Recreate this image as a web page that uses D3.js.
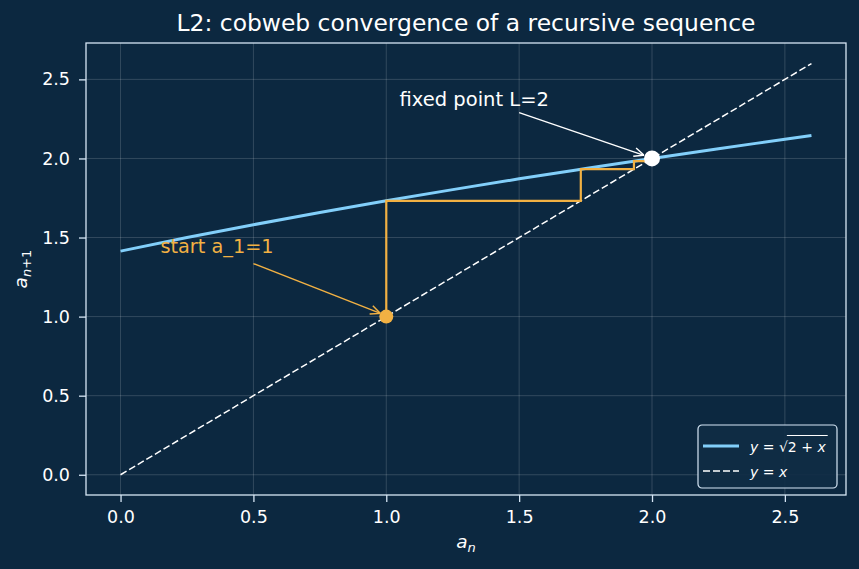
<!DOCTYPE html>
<html>
<head>
<meta charset="utf-8">
<script src="https://d3js.org/d3.v7.min.js"></script>
<style>
  body { margin: 0; background: #0c2840; }
  text { font-family: "DejaVu Sans", sans-serif; }
</style>
</head>
<body>
<div id="chart"></div>
<script>
// curve y = sqrt(2 + x), sampled
var curveX = [0, 0.25, 0.5, 0.75, 1.0, 1.25, 1.5, 1.75, 2.0, 2.25, 2.5, 2.6];
var curveY = [1.414, 1.500, 1.581, 1.658, 1.732, 1.803, 1.871, 1.936, 2.000, 2.062, 2.121, 2.145];
// identity line y = x
var identX = [0, 2.6];
var identY = [0, 2.6];
// cobweb sequence a_1 .. a_n
var seq = [1, 1.732, 1.932, 1.983, 1.996, 1.999];
var xTicks = [0.0, 0.5, 1.0, 1.5, 2.0, 2.5];
var yTicks = [0.0, 0.5, 1.0, 1.5, 2.0, 2.5];

var W = 859, H = 569;
var margin = {top: 43, right: 13, bottom: 74, left: 86};

var bg = "#0c2840", fg = "#d6e6f5", blue = "#82cffa", orange = "#f2b143";

var svg = d3.select("#chart").append("svg")
    .attr("width", W).attr("height", H);

svg.append("rect").attr("width", W).attr("height", H).attr("fill", bg);

var x = d3.scaleLinear().domain([-0.13, 2.73]).range([margin.left, W - margin.right]);
var y = d3.scaleLinear().domain([-0.128, 2.73]).range([H - margin.bottom, margin.top]);

// grid
var grid = svg.append("g");
xTicks.forEach(function(t) {
  grid.append("line").attr("x1", x(t)).attr("x2", x(t))
    .attr("y1", y.range()[0]).attr("y2", y.range()[1])
    .attr("stroke", "#ffffff").attr("stroke-opacity", 0.2).attr("stroke-width", 0.8);
});
yTicks.forEach(function(t) {
  grid.append("line").attr("y1", y(t)).attr("y2", y(t))
    .attr("x1", x.range()[0]).attr("x2", x.range()[1])
    .attr("stroke", "#ffffff").attr("stroke-opacity", 0.2).attr("stroke-width", 0.8);
});

// axes
var xAxis = svg.append("g")
    .attr("transform", "translate(0," + (H - margin.bottom) + ")")
    .call(d3.axisBottom(x).tickValues(xTicks).tickFormat(d3.format(".1f")).tickSize(7).tickPadding(9));
var yAxis = svg.append("g")
    .attr("transform", "translate(" + margin.left + ",0)")
    .call(d3.axisLeft(y).tickValues(yTicks).tickFormat(d3.format(".1f")).tickSize(7).tickPadding(9));
[xAxis, yAxis].forEach(function(a) {
  a.select(".domain").remove();
  a.selectAll("line").attr("stroke", fg).attr("stroke-width", 1.3);
  a.selectAll("text").attr("fill", "#ffffff").attr("font-size", 17.5)
    .attr("font-family", "DejaVu Sans, sans-serif");
});

// spines
svg.append("rect")
    .attr("x", x.range()[0]).attr("y", y.range()[1])
    .attr("width", x.range()[1] - x.range()[0])
    .attr("height", y.range()[0] - y.range()[1])
    .attr("fill", "none").attr("stroke", fg).attr("stroke-width", 1.3);

var line = d3.line().x(function(d) { return x(d[0]); }).y(function(d) { return y(d[1]); });

// identity dashed
svg.append("path")
    .attr("d", line(d3.zip(identX, identY)))
    .attr("fill", "none").attr("stroke", "#ffffff").attr("stroke-width", 1.5)
    .attr("stroke-dasharray", "7,3");

// curve
svg.append("path")
    .attr("d", line.curve(d3.curveMonotoneX)(d3.zip(curveX, curveY)))
    .attr("fill", "none").attr("stroke", blue).attr("stroke-width", 3);
line.curve(d3.curveLinear);

// cobweb path
var web = [[seq[0], seq[0]]];
for (var i = 0; i < seq.length - 1; i++) {
  web.push([seq[i], seq[i + 1]]);
  web.push([seq[i + 1], seq[i + 1]]);
}
svg.append("path")
    .attr("d", line(web))
    .attr("fill", "none").attr("stroke", orange).attr("stroke-width", 2.2);

// markers
svg.append("circle").attr("cx", x(1)).attr("cy", y(1)).attr("r", 7).attr("fill", orange);
svg.append("circle").attr("cx", x(2)).attr("cy", y(2)).attr("r", 8).attr("fill", "#ffffff");

// arrow markers
var defs = svg.append("defs");
function arrowHead(id, color) {
  defs.append("marker").attr("id", id)
    .attr("viewBox", "0 0 10 10").attr("refX", 10).attr("refY", 5)
    .attr("markerWidth", 11).attr("markerHeight", 11).attr("markerUnits", "userSpaceOnUse")
    .attr("orient", "auto")
    .append("path").attr("d", "M1,1 L10,5 L1,9")
    .attr("fill", "none").attr("stroke", color).attr("stroke-width", 1.3);
}
arrowHead("arrW", "#ffffff");
arrowHead("arrO", orange);

// annotations
svg.append("text").attr("x", x(1.05)).attr("y", y(2.33))
    .attr("fill", "#ffffff").attr("font-size", 19.5).text("fixed point L=2");
svg.append("line")
    .attr("x1", x(1.5)).attr("y1", y(2.29)).attr("x2", x(1.97)).attr("y2", y(2.02))
    .attr("stroke", "#ffffff").attr("stroke-width", 1.4).attr("marker-end", "url(#arrW)");

svg.append("text").attr("x", x(0.15)).attr("y", y(1.4))
    .attr("fill", orange).attr("font-size", 19.3).text("start a_1=1");
svg.append("line")
    .attr("x1", x(0.5)).attr("y1", y(1.335)).attr("x2", x(0.978)).attr("y2", y(1.02))
    .attr("stroke", orange).attr("stroke-width", 1.4).attr("marker-end", "url(#arrO)");

// title
svg.append("text").attr("x", (x.range()[0] + x.range()[1]) / 2).attr("y", 31)
    .attr("text-anchor", "middle").attr("fill", "#ffffff").attr("font-size", 23.4)
    .text("L2: cobweb convergence of a recursive sequence");

// axis labels
var xl = svg.append("text").attr("x", (x.range()[0] + x.range()[1]) / 2).attr("y", 548)
    .attr("text-anchor", "middle").attr("fill", "#ffffff").attr("font-size", 18.5);
xl.append("tspan").attr("font-style", "italic").text("a");
xl.append("tspan").attr("font-style", "italic").attr("font-size", 13).attr("dy", 4).text("n");

var yl = svg.append("text")
    .attr("transform", "translate(27," + ((y.range()[0] + y.range()[1]) / 2) + ") rotate(-90)")
    .attr("text-anchor", "middle").attr("fill", "#ffffff").attr("font-size", 18.5);
yl.append("tspan").attr("font-style", "italic").text("a");
var sub = yl.append("tspan").attr("font-size", 13).attr("dy", 4);
sub.append("tspan").attr("font-style", "italic").text("n");
sub.append("tspan").text("+1");

// legend
var lg = svg.append("g").attr("transform", "translate(698,425)");
lg.append("rect").attr("width", 139).attr("height", 63).attr("rx", 4)
    .attr("fill", "#0f2c45").attr("fill-opacity", 0.9)
    .attr("stroke", fg).attr("stroke-width", 1.2);
lg.append("line").attr("x1", 5).attr("x2", 41).attr("y1", 21).attr("y2", 21)
    .attr("stroke", blue).attr("stroke-width", 3);
lg.append("line").attr("x1", 5).attr("x2", 41).attr("y1", 46).attr("y2", 46)
    .attr("stroke", "#ffffff").attr("stroke-width", 1.5).attr("stroke-dasharray", "7,3");
var t1 = lg.append("text").attr("x", 52).attr("y", 27).attr("fill", "#ffffff").attr("font-size", 14);
t1.append("tspan").attr("font-style", "italic").text("y");
t1.append("tspan").text(" = \u221A");
t1.append("tspan").text("2 + ");
t1.append("tspan").attr("font-style", "italic").text("x");
// sqrt bar over the radicand
var node1 = t1.node();
var startBar = node1.getSubStringLength(0, 5);
var endBar = node1.getComputedTextLength();
lg.append("line").attr("x1", 52 + startBar - 1).attr("x2", 52 + endBar + 2)
    .attr("y1", 10.5).attr("y2", 10.5)
    .attr("stroke", "#ffffff").attr("stroke-width", 1);
var t2 = lg.append("text").attr("x", 52).attr("y", 52).attr("fill", "#ffffff").attr("font-size", 14);
t2.append("tspan").attr("font-style", "italic").text("y");
t2.append("tspan").text(" = ");
t2.append("tspan").attr("font-style", "italic").text("x");
</script>
</body>
</html>
